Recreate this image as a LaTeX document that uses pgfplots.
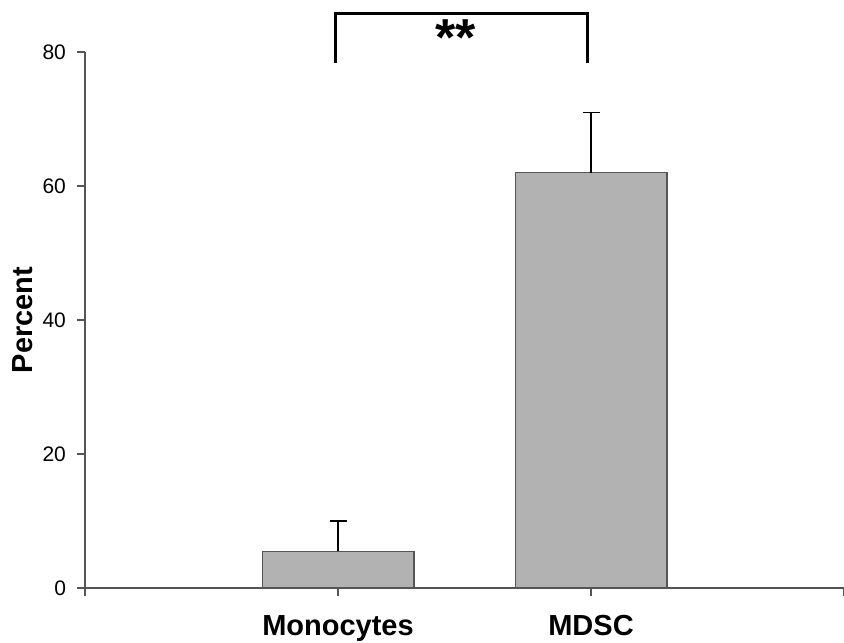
\documentclass[border=0pt]{standalone}
\usepackage{pgfplots}
\pgfplotsset{compat=1.18}
\usepackage{fontspec}
\setmainfont{Liberation Sans}
\definecolor{barfill}{HTML}{B2B2B2}
\definecolor{axisgray}{HTML}{555555}
\begin{document}
\begin{tikzpicture}
\useasboundingbox (0,0) rectangle (422pt,321pt);
\begin{axis}[
  at={(42.5pt,27pt)}, anchor=south west,
  scale only axis,
  width=379.5pt, height=268pt,
  xmin=0, xmax=3, ymin=0, ymax=80,
  axis lines*=left,
  axis line style={axisgray, line width=0.9pt},
  every tick/.style={axisgray, line width=0.9pt},
  tick align=outside,
  major tick length=4pt,
  xtick={0,1,2,3},
  xticklabels={,Monocytes,MDSC,},
  ytick={0,20,40,60,80},
  /pgf/number format/assume math mode=true,
  yticklabel style={anchor=east, xshift=-2pt, font=\fontsize{10.5}{12}\selectfont},
  xticklabel style={anchor=base, yshift=-19.5pt, font=\fontsize{14.5}{16}\selectfont\bfseries},
  ylabel={Percent},
  every axis y label/.style={at={(axis description cs:-0.0817,0.5)}, rotate=90, anchor=center, font=\fontsize{14.5}{16}\selectfont\bfseries},
  clip=false,
]
\addplot[ybar, bar width=0.6, fill=barfill, draw=axisgray, line width=0.6pt,
  error bars/.cd, y dir=plus, y explicit,
  error bar style={black, line width=0.6pt},
  error mark options={rotate=90, mark size=4.25pt, black, line width=0.6pt}]
  coordinates {
    (1,5.5) +- (0,4.5)
    (2,62) +- (0,9)
  };
\draw[black, line width=1.5pt] (axis cs:0.99,78.4) -- (axis cs:0.99,85.8) -- (axis cs:1.985,85.8) -- (axis cs:1.985,78.4);
\node[font=\fontsize{26}{26}\selectfont\bfseries, anchor=center] at (axis cs:1.465,82.2) {**};
\end{axis}
\end{tikzpicture}
\end{document}
